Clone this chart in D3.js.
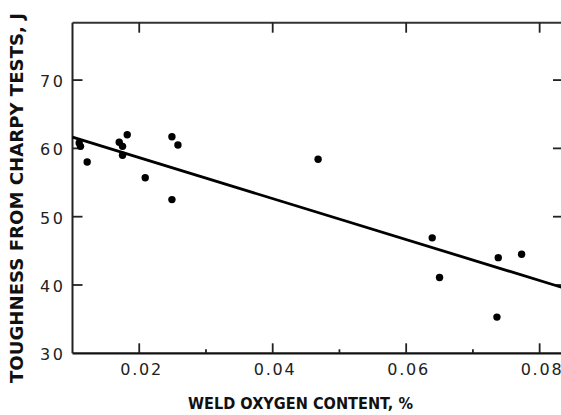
<!DOCTYPE html>
<html>
<head>
<meta charset="utf-8">
<script src="https://cdn.jsdelivr.net/npm/d3@7"></script>
<style>
  body { margin: 0; background: #fff; }
  svg { display: block; }
  .tick-label { font-family: "DejaVu Sans", sans-serif; font-size: 16px; fill: #222; }
  .axis-title { font-family: "DejaVu Sans", sans-serif; font-weight: bold; fill: #111; }
</style>
</head>
<body>
<div id="chart"></div>
<script>
// weld oxygen content (%) vs Charpy toughness (J)
const oxygen    = [0.0110, 0.0112, 0.0122, 0.0170, 0.0175, 0.0175, 0.0182, 0.0209, 0.0249, 0.0258, 0.0249, 0.0468, 0.0639, 0.0650, 0.0738, 0.0773, 0.0736];
const toughness = [60.8, 60.3, 58.0, 60.9, 60.3, 59.0, 62.0, 55.7, 61.7, 60.5, 52.5, 58.4, 46.9, 41.1, 44.0, 44.5, 35.3];

// fitted line end points
const fitX = [0.0100, 0.0835];
const fitY = [61.65, 39.6];

const xMajor = [0.02, 0.04, 0.06, 0.08];
const xMinor = [0.03, 0.05, 0.07];
const yMajor = [40, 50, 60, 70];
const yLabels = [30, 40, 50, 60, 70];

const width = 561, height = 415;
const plot = { left: 72.5, right: 563, top: 22.7, bottom: 353.3 };

const svg = d3.select("#chart").append("svg")
    .attr("width", width)
    .attr("height", height);

const x = d3.scaleLinear().domain([0.01, 0.0835]).range([plot.left, plot.right]);
const y = d3.scaleLinear().domain([30, 78.4]).range([plot.bottom, plot.top]);

// frame
svg.append("line")
    .attr("x1", plot.left).attr("x2", plot.right)
    .attr("y1", plot.top).attr("y2", plot.top)
    .attr("stroke", "#333").attr("stroke-width", 2);
svg.append("line")
    .attr("x1", plot.left).attr("x2", plot.right)
    .attr("y1", plot.bottom).attr("y2", plot.bottom)
    .attr("stroke", "#111").attr("stroke-width", 2.2);
svg.append("line")
    .attr("x1", plot.left).attr("x2", plot.left)
    .attr("y1", plot.top).attr("y2", plot.bottom)
    .attr("stroke", "#222").attr("stroke-width", 2);

// ticks, all pointing inwards
const tickG = svg.append("g").attr("stroke", "#222").attr("stroke-width", 1.8);
tickG.selectAll(".xb").data(xMajor).enter().append("line")
    .attr("x1", d => x(d)).attr("x2", d => x(d))
    .attr("y1", plot.bottom).attr("y2", plot.bottom - 10);
tickG.selectAll(".xt").data(xMajor).enter().append("line")
    .attr("x1", d => x(d)).attr("x2", d => x(d))
    .attr("y1", plot.top).attr("y2", plot.top + 10);
tickG.selectAll(".xm").data(xMinor).enter().append("line")
    .attr("x1", d => x(d)).attr("x2", d => x(d))
    .attr("y1", plot.bottom).attr("y2", plot.bottom - 4);
tickG.selectAll(".yl").data(yMajor).enter().append("line")
    .attr("x1", plot.left).attr("x2", plot.left + 10)
    .attr("y1", d => y(d)).attr("y2", d => y(d));
tickG.selectAll(".yr").data(yMajor).enter().append("line")
    .attr("x1", plot.right).attr("x2", plot.right - 10)
    .attr("y1", d => y(d)).attr("y2", d => y(d));

// tick labels
svg.selectAll(".xl").data(xMajor).enter().append("text")
    .attr("class", "tick-label")
    .attr("x", d => x(d) + 1.5)
    .attr("y", 375)
    .attr("text-anchor", "middle")
    .attr("textLength", 41)
    .attr("lengthAdjust", "spacing")
    .text(d => d3.format(".2f")(d));

svg.selectAll(".ylab").data(yLabels).enter().append("text")
    .attr("class", "tick-label")
    .attr("x", 63)
    .attr("y", d => y(d) + 7)
    .attr("text-anchor", "end")
    .attr("textLength", 23)
    .attr("lengthAdjust", "spacing")
    .text(d => d);

// regression line
svg.append("line")
    .attr("x1", x(fitX[0])).attr("y1", y(fitY[0]))
    .attr("x2", x(fitX[1])).attr("y2", y(fitY[1]))
    .attr("stroke", "#000")
    .attr("stroke-width", 2.8);

// data points
svg.selectAll("circle")
    .data(oxygen.map((o, i) => ({ o: o, t: toughness[i] })))
    .enter()
    .append("circle")
    .attr("cx", d => x(d.o))
    .attr("cy", d => y(d.t))
    .attr("r", 3.7)
    .attr("fill", "#000");

// axis titles
svg.append("text")
    .attr("class", "axis-title")
    .attr("x", 300.5)
    .attr("y", 409)
    .attr("text-anchor", "middle")
    .style("font-size", "16.5px")
    .attr("textLength", 225)
    .attr("lengthAdjust", "spacingAndGlyphs")
    .text("WELD OXYGEN CONTENT, %");

svg.append("text")
    .attr("class", "axis-title")
    .attr("transform", "translate(23,198) rotate(-90)")
    .attr("text-anchor", "middle")
    .style("font-size", "18px")
    .attr("textLength", 370)
    .attr("lengthAdjust", "spacingAndGlyphs")
    .text("TOUGHNESS FROM CHARPY TESTS, J");
</script>
</body>
</html>
